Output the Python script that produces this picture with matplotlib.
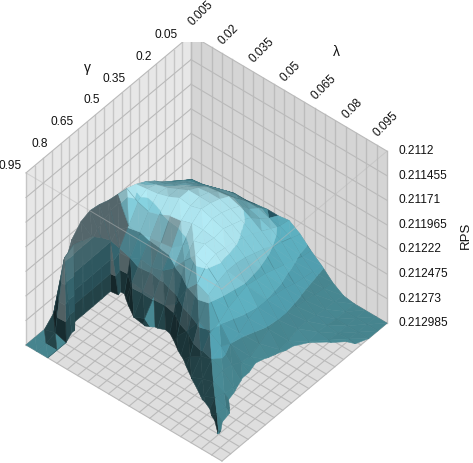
import numpy as np
import matplotlib
matplotlib.use("Agg")
import matplotlib.pyplot as plt
from mpl_toolkits.mplot3d import proj3d
from mpl_toolkits.mplot3d.art3d import Poly3DCollection

plt.rcParams['font.family'] = ['Liberation Sans', 'DejaVu Sans']

W, H = 473, 463

gamma_vals = [0.05, 0.10, 0.15, 0.20, 0.25, 0.30, 0.35, 0.40, 0.45, 0.50, 0.55, 0.60, 0.65, 0.70, 0.75, 0.80, 0.85, 0.90, 0.95]
lambda_vals = [0.005, 0.010, 0.015, 0.020, 0.025, 0.030, 0.035, 0.040, 0.045, 0.050, 0.055, 0.060, 0.065, 0.070, 0.075, 0.080, 0.085, 0.090, 0.095]
gamma_ticks = ['0.05', '0.2', '0.35', '0.5', '0.65', '0.8', '0.95']
lambda_ticks = ['0.005', '0.02', '0.035', '0.05', '0.065', '0.08', '0.095']
rps_ticks = ['0.2112', '0.211455', '0.21171', '0.211965', '0.21222', '0.212475', '0.21273', '0.212985']
rps_top = 0.2112
rps_floor = 0.212985

# hauteur, en % de l'axe RPS au dessus du plancher (lignes: gamma, colonnes: lambda)
# negatif = sous le plancher, donc coupe
rise = np.array([
    [16, 16, 19, 21, 23, 23, 24, 25, 25, 26, 22, 16, 11, 5, 1, 0, 0, 0, 0],
    [20, 24, 25, 27, 29, 30, 30, 30, 28, 27, 24, 17, 12, 6, 2, 0, 0, 0, 0],
    [24, 28, 30, 32, 34, 35, 36, 34, 32, 30, 26, 19, 13, 7, 2, 0, 0, 0, 0],
    [28, 31, 35, 37, 40, 41, 42, 40, 37, 33, 28, 21, 14, 8, 3, 1, 0, 0.5, -0.3],
    [33, 35, 38, 41, 44, 45, 45, 43, 40, 36, 31, 23, 16, 9, 4, 1.5, 0.5, -1.5, -5],
    [37, 39, 41, 44, 47, 47, 47, 45, 42, 38, 33, 25, 17, 10, 4, 0.2, -3, -7, -11],
    [40, 41, 42, 44, 47, 46, 48, 46, 44, 40, 35, 26, 18, 10, 1.5, -2, -8, -12, -16],
    [42, 38, 36, 38, 41, 42, 44, 44, 43, 41, 36, 27, 18, 9, 0.9, -5, -11, -16, -20],
    [43, 29, 27, 29, 30, 31, 36, 42, 44, 42, 36, 25, 16, 5, -1, -6, -12, -18, -24],
    [44, 20, 18, 21, 20, 22, 27, 35, 42, 40, 34, 23, 12, 2, -2, -8, -14, -20, -26],
    [46, 29, -10, 12, 11, 11, 10, 14, 27, 34, 31, 19, 10, 3, -1, -6, -14, -20, -26],
    [47, 35, -300, -20, 0, 3, -3, -9, 4, 11, 20, 17, 13, 6, -1, -8, -14, -20, -26],
    [45, 40, -300, -50, -30, -20, -15, -30, -16, -3, 4, 8, 10, 7, 1, -5, -12, -20, -26],
    [39, 42, -300, -50, -30, -30, -20, -20, -15, -10, -6, 0.2, 3, 5, 2, -3, -10, -20, -26],
    [25, 44, -300, -30, -30, -30, -30, -30, -25, -20, -10, -20, -2, 1, 4, 2, -4, -20, -26],
    [5, 41, -20, -30, -30, -30, -30, -30, -30, -25, -20, -15, -10, -4, -3, 3, -3, -20, -26],
    [0, 2, 0, -20, -30, -30, -30, -30, -30, -30, -25, -20, -15, -10, -6, -10, 1, -15, -26],
    [0, 0, 0, -20, -30, -30, -30, -30, -30, -30, -30, -25, -20, -15, -10, -8, -6, -20, -26],
    [0, 0, 0, -20, -30, -30, -30, -30, -30, -30, -30, -30, -25, -20, -15, -10, -10, -20, -26],
], dtype=float)

# bandes de hauteur de la surface (%), et leur couleur
band_lo = [0, 10, 18, 28, 39]
band_hi = [10, 18, 28, 39, 100]
band_rgb = [(70, 132, 142), (80, 156, 172), (92, 174, 190), (128, 200, 214), (170, 224, 234)]
light = np.array([0.45, 0.40, 0.80])
# petits bouts sombres qui depassent sur le bord arriere (gamma, lambda)
dark_cells = [(0, 0), (0, 5), (0, 7)]


def face_color(base, level, p, q, r, strip=False):
    # normale de la facette dans la boite (x gamma, y lambda, z hauteur)
    n = np.cross(q - p, r - p)
    if n[2] < 0:
        n = -n
    n = n / np.linalg.norm(n)
    s = np.clip(np.dot(np.array([max(n[0], 0), max(n[1], 0), n[2]]), light / np.linalg.norm(light)), 0, 1)
    f = np.interp(s, [0, 0.3, 0.55, 0.7, 0.8, 1], [0.25, 0.4, 0.62, 0.85, 1.0, 1.05])
    if n[0] > n[1] + 0.25:
        # les faces tournees vers gamma haut sont plus sombres en bas de la surface
        f = f * [0.5, 0.55, 0.75, 1, 1][level]
    c = np.array(base) * f
    if strip:
        return (0.33, 0.40, 0.42, 1)
    w = np.clip((n[0] - 0.6 * abs(n[1]) - 0.65) * 4, 0, 1) * (level > 0)
    c = c * (1 - 0.85 * w) + np.array([112, 128, 132]) * max(f, 0.8) * 0.85 * w
    return tuple(np.clip(c / 255, 0, 1)) + (1,)


def clip_level(pts, level, above=True):
    # garde la partie du polygone au dessus (ou au dessous) d'une hauteur (pts: i, j, hauteur)
    out = []
    sgn = 1 if above else -1
    for k in range(len(pts)):
        a, b = pts[k], pts[(k + 1) % len(pts)]
        da, db = sgn * (a[2] - level), sgn * (b[2] - level)
        if da >= 0:
            out.append(a)
        if (da >= 0) != (db >= 0):
            out.append(a + da / (da - db) * (b - a))
    return out


def to_data(pts):
    res = []
    for p in pts:
        res.append((np.interp(p[0], range(19), gamma_vals), np.interp(p[1], range(19), lambda_vals),
                    rps_floor - p[2] / 100 * (rps_floor - rps_top)))
    return res


fig = plt.figure(figsize=(W / 100, H / 100), dpi=100)
ax = fig.add_axes([0, 0, 1, 1], projection='3d', proj_type='ortho')
ax.computed_zorder = False
ax.view_init(elev=44.7, azim=40.1)
ax.set_box_aspect((1, 1, 0.945))
ax.set_xlim(0.05, 0.95)
ax.set_ylim(0.005, 0.095)
ax.set_zlim(rps_floor, rps_top)
ax.set_axis_off()
ax.patch.set_alpha(0)
fig.patch.set_facecolor('white')

g0, g1 = gamma_vals[0], gamma_vals[-1]
l0, l1 = lambda_vals[0], lambda_vals[-1]


def screen(x, y, z):
    ax.apply_aspect()
    x2, y2, _ = proj3d.proj_transform(x, y, z, ax.get_proj())
    p = ax.transData.transform((x2, y2))
    return p[0], H - p[1]


# cale les axes pour que la boite tombe au bon endroit sur l'image
side = 500.0
ax.set_position([0, 0, side / W, side / H])
a = screen(g1, l0, rps_top)
c = screen(g0, l1, rps_top)
side = side * (387 - 26) / (c[0] - a[0])
ax.set_position([0, 0, side / W, side / H])
a = screen(g1, l0, rps_top)
c = screen(g0, l1, rps_top)
dx = (26 + 387) / 2 - (a[0] + c[0]) / 2
dy = (173 + 151) / 2 - (a[1] + c[1]) / 2
ax.set_position([dx / W, -dy / H, side / W, side / H])

# murs et plancher
left_wall = [(g0, l0, rps_top), (g1, l0, rps_top), (g1, l0, rps_floor), (g0, l0, rps_floor)]
right_wall = [(g0, l0, rps_top), (g0, l1, rps_top), (g0, l1, rps_floor), (g0, l0, rps_floor)]
floor = [(g0, l0, rps_floor), (g1, l0, rps_floor), (g1, l1, rps_floor), (g0, l1, rps_floor)]
ax.add_collection3d(Poly3DCollection([left_wall], facecolors='#e7e7e7', edgecolors='none', zorder=1))
ax.add_collection3d(Poly3DCollection([right_wall], facecolors='#d5d5d5', edgecolors='none', zorder=1))
ax.add_collection3d(Poly3DCollection([floor], facecolors='#dedede', edgecolors='none', zorder=1))

grid_c = '#bababa'
z_vals = [float(s) for s in rps_ticks]
for t in np.linspace(0, 1, 20):
    g = g0 + t * (g1 - g0)
    lm = l0 + t * (l1 - l0)
    ax.plot([g, g], [l0, l0], [rps_top, rps_floor], color='#c6c6c6', lw=1.0, zorder=1.5)
    ax.plot([g0, g0], [lm, lm], [rps_top, rps_floor], color='#bcbcbc', lw=1.0, zorder=1.5)
    ax.plot([g, g], [l0, l1], [rps_floor, rps_floor], color=grid_c, lw=0.8, zorder=1.5)
    ax.plot([g0, g1], [lm, lm], [rps_floor, rps_floor], color=grid_c, lw=0.8, zorder=1.5)
for z in z_vals:
    ax.plot([g0, g1], [l0, l0], [z, z], color=grid_c, lw=0.8, zorder=1.5)
    ax.plot([g0, g0], [l0, l1], [z, z], color=grid_c, lw=0.8, zorder=1.5)

# surface: triangles coupes par bandes + lignes du maillage dans la meme collection
polys = []
faces = []
edges = []
mesh_c = (0.18, 0.38, 0.42, 0.5)
for i in range(18):
    for j in range(18):
        q = [np.array([i, j, rise[i, j]]), np.array([i + 1, j, rise[i + 1, j]]),
             np.array([i + 1, j + 1, rise[i + 1, j + 1]]), np.array([i, j + 1, rise[i, j + 1]])]
        box = [np.array([p[0] / 18, p[1] / 18, p[2] / 100 * 0.945]) for p in q]
        # la diagonale suit le bord de la coupe a droite
        split = ((0, 1, 3), (1, 2, 3)) if j >= 10 and i <= 9 else ((0, 1, 2), (0, 2, 3))
        for idx in split:
            tri = [q[k] for k in idx]
            for level, (lo, hi, rgb) in enumerate(zip(band_lo, band_hi, band_rgb)):
                piece = clip_level(tri, lo)
                if len(piece) >= 3:
                    piece = clip_level(piece, hi, above=False)
                if len(piece) < 3:
                    continue
                col = face_color(rgb, level, box[idx[0]], box[idx[1]], box[idx[2]], strip=(j == 0 and 8 <= i <= 14))
                if (i, j) in dark_cells and idx == (0, 2, 3):
                    col = (0.14, 0.33, 0.38, 1)
                polys.append(to_data(piece))
                faces.append(col)
                edges.append(col)
        for seg in ((q[0], q[1]), (q[0], q[3])):
            cut = clip_level([seg[0], seg[1], seg[0]], 0)
            if len(cut) >= 2:
                polys.append(to_data(cut))
                faces.append((0, 0, 0, 0))
                edges.append(mesh_c)
surf = Poly3DCollection(polys, facecolors=faces, edgecolors=edges, linewidths=0.35, zorder=2)
ax.add_collection3d(surf)

# aretes du haut de la boite, vues a travers la surface
ghost = '#b9b9b9'
ax.plot([g1, g1], [l0, l1], [rps_top, rps_top], color=ghost, lw=0.7, alpha=0.5, zorder=3)
ax.plot([g0, g1], [l1, l1], [rps_top, rps_top], color=ghost, lw=0.7, alpha=0.5, zorder=3)

# textes
font = 8.6
for k, s in enumerate(gamma_ticks):
    t = k / 6
    px, py = screen(g0 + t * (g1 - g0), l0, rps_top)
    fig.text((px - 13 + 9 * t) / W, 1 - (py - 7 * t) / H, s, ha='right', va='center', fontsize=font, color='#111111')
for k, s in enumerate(lambda_ticks):
    t = k / 6
    px, py = screen(g0, l0 + t * (l1 - l0), rps_top)
    fig.text((px - 1 - 11 * t) / W, 1 - (py - 11 - 5 * t) / H, s, ha='left', va='center', rotation=45,
             rotation_mode='anchor', fontsize=font, color='#111111')
for s, z in zip(rps_ticks, z_vals):
    px, py = screen(g0, l1, z)
    fig.text((px + 11) / W, 1 - py / H, s, ha='left', va='center', fontsize=font, color='#111111')
fig.text(87 / W, 1 - 68 / H, 'γ', ha='center', va='center', fontsize=10, color='#111111')
fig.text(336 / W, 1 - 52 / H, 'λ', ha='center', va='center', fontsize=10, color='#111111')
fig.text(466 / W, 1 - 235 / H, 'RPS', ha='center', va='center', rotation=90, fontsize=9.5, color='#111111')

fig.savefig('out.png', dpi=100)
